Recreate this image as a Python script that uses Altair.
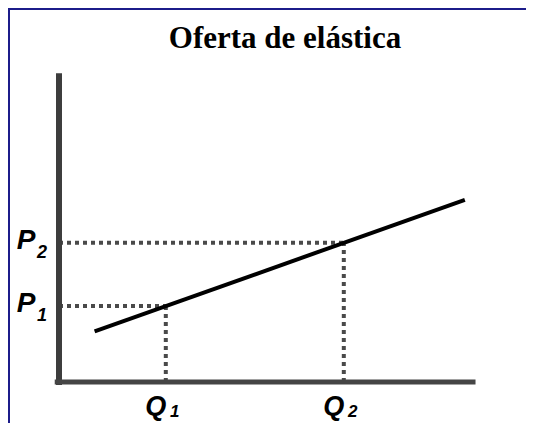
import altair as alt
import pandas as pd

# ---- data ----
TITLE = "Oferta de elástica"
Q_LEVELS = [3, 8]          # Q1, Q2
P_LEVELS = [3, 5.5]        # P1, P2
SUBSCRIPTS = ["1", "2"]
SUPPLY_Q = [1, 11.4]
SUPPLY_P = [2, 7.2]
AXIS_Q_MAX = 11.7
AXIS_P_MAX = 12.2

# ---- scales ----
xs = alt.Scale(domain=[0, 12], range=[51, 51 + 12 * 35.6], nice=False, zero=False)
ys = alt.Scale(domain=[0, 12], range=[374, 374 - 12 * 25.3], nice=False, zero=False)


def X(f):
    return alt.X(f, type="quantitative", scale=xs, axis=None)


def Y(f):
    return alt.Y(f, type="quantitative", scale=ys, axis=None)


# axes
yaxis_df = pd.DataFrame({"q": [0], "q2": [0], "p": [-0.12], "p2": [AXIS_P_MAX]})
xaxis_df = pd.DataFrame({"q": [-0.12], "q2": [AXIS_Q_MAX], "p": [0], "p2": [0]})

yaxis = alt.Chart(yaxis_df).mark_rule(color="#3d3d3d", strokeWidth=6, strokeCap="butt").encode(
    x=X("q"), x2="q2", y=Y("p"), y2="p2")
xaxis = alt.Chart(xaxis_df).mark_rule(color="#454545", strokeWidth=5, strokeCap="butt").encode(
    x=X("q"), x2="q2", y=Y("p"), y2="p2")

# dotted guides
rows = []
for q, p in zip(Q_LEVELS, P_LEVELS):
    rows.append({"q": 0, "q2": q, "p": p, "p2": p})
    rows.append({"q": q, "q2": q, "p": 0, "p2": p})
guides_df = pd.DataFrame(rows)
guides = alt.Chart(guides_df).mark_rule(color="#4a4a4a", strokeWidth=4, strokeDash=[4, 4],
                                        strokeCap="butt").encode(
    x=X("q"), x2="q2", y=Y("p"), y2="p2")

# supply curve
supply_df = pd.DataFrame({"q": SUPPLY_Q, "p": SUPPLY_P})
supply = alt.Chart(supply_df).mark_line(color="#000000", strokeWidth=4).encode(
    x=X("q"), y=Y("p"))

# labels
lab_df = pd.DataFrame({"q": Q_LEVELS, "p": P_LEVELS, "sub": SUBSCRIPTS})
font_kw = dict(font="Liberation Sans", fontWeight="bold", fontStyle="italic", color="#000000")

p_letter = alt.Chart(lab_df).mark_text(text="P", fontSize=28, align="center", baseline="middle",
                                       dx=-33, dy=-2, **font_kw).encode(
    x=alt.X("zero:Q", scale=xs, axis=None), y=Y("p")).transform_calculate(zero="0")
p_sub = alt.Chart(lab_df).mark_text(fontSize=18, align="center", baseline="middle",
                                    dx=-17, dy=10, **font_kw).encode(
    x=alt.X("zero:Q", scale=xs, axis=None), y=Y("p"), text="sub:N").transform_calculate(zero="0")
q_letter = alt.Chart(lab_df).mark_text(text="Q", fontSize=27, align="center", baseline="alphabetic",
                                       dx=-10, dy=33, **font_kw).encode(
    x=X("q"), y=alt.Y("zero:Q", scale=ys, axis=None)).transform_calculate(zero="0")
q_sub = alt.Chart(lab_df).mark_text(fontSize=17, align="center", baseline="alphabetic",
                                    dx=9, dy=35, **font_kw).encode(
    x=X("q"), y=alt.Y("zero:Q", scale=ys, axis=None), text="sub:N").transform_calculate(zero="0")

# title
title = alt.Chart(pd.DataFrame({"t": [TITLE]})).mark_text(
    font="Liberation Serif", fontSize=31, fontWeight="bold", color="#000000",
    align="center", baseline="alphabetic").encode(
    x=alt.value(277), y=alt.value(40), text="t:N")

# frame (blue border lines at top and left)
frame_top = alt.Chart(pd.DataFrame({"a": [0]})).mark_rule(color="#1c1c8a", strokeWidth=2).encode(
    x=alt.value(0), x2=alt.value(518), y=alt.value(1))
frame_left = alt.Chart(pd.DataFrame({"a": [0]})).mark_rule(color="#1c1c8a", strokeWidth=2).encode(
    x=alt.value(1), y=alt.value(0), y2=alt.value(415))

chart = alt.layer(
    frame_top, frame_left, guides, yaxis, xaxis, supply,
    p_letter, p_sub, q_letter, q_sub, title
).properties(
    width=518, height=415,
    autosize=alt.AutoSizeParams(type="none"),
    padding=0,
    background="#ffffff",
).configure_view(stroke=None)

chart.save("out.html", embed_options={"renderer": "svg", "actions": False})
